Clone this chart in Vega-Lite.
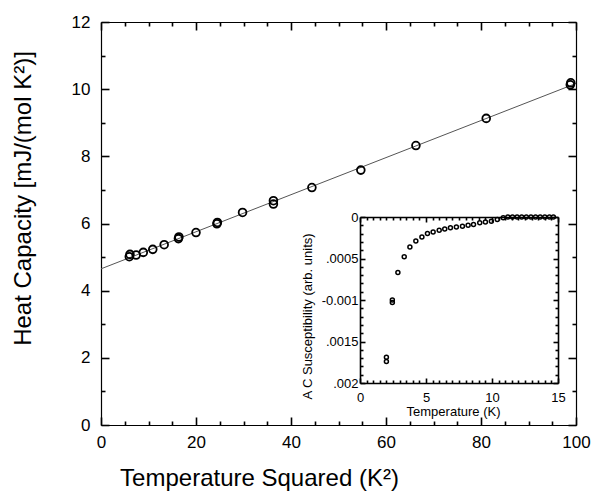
{
  "$schema": "https://vega.github.io/schema/vega-lite/v6.json",
  "autosize": "none",
  "width": 475,
  "height": 403,
  "padding": {"left": 101, "top": 22, "right": 18, "bottom": 67},
  "background": "white",
  "config": {
    "view": {"stroke": null},
    "axis": {
      "grid": false,
      "ticks": true,
      "domainColor": "black",
      "tickColor": "black",
      "tickOpacity": 1,
      "tickWidth": 1.6,
      "labelColor": "black",
      "titleColor": "black",
      "labelFont": "Liberation Sans",
      "titleFont": "Liberation Sans",
      "titleFontWeight": "normal",
      "labelFlush": false
    }
  },
  "datasets": {
    "main": [
      {"t2": 5.96, "c": 5.01}, {"t2": 6.1, "c": 5.08}, {"t2": 7.4, "c": 5.06}, {"t2": 8.9, "c": 5.14},
      {"t2": 10.9, "c": 5.23}, {"t2": 13.3, "c": 5.37}, {"t2": 16.3, "c": 5.55}, {"t2": 16.4, "c": 5.6},
      {"t2": 20.0, "c": 5.73}, {"t2": 24.4, "c": 5.99}, {"t2": 24.5, "c": 6.03}, {"t2": 29.8, "c": 6.33},
      {"t2": 36.3, "c": 6.58}, {"t2": 36.3, "c": 6.68}, {"t2": 44.4, "c": 7.07}, {"t2": 54.7, "c": 7.59},
      {"t2": 66.3, "c": 8.32}, {"t2": 81.1, "c": 9.13}, {"t2": 98.8, "c": 10.13}, {"t2": 98.9, "c": 10.19}
    ],
    "fit": [{"t2": 0, "c": 4.65}, {"t2": 100, "c": 10.17}],
    "inset": [
      {"T": 2.0, "chi": -0.00169}, {"T": 2.0, "chi": -0.00174}, {"T": 2.45, "chi": -0.00100}, {"T": 2.45, "chi": -0.00103},
      {"T": 2.87, "chi": -0.00067}, {"T": 3.35, "chi": -0.00048}, {"T": 3.78, "chi": -0.00036}, {"T": 4.23, "chi": -0.00029},
      {"T": 4.69, "chi": -0.00024}, {"T": 5.11, "chi": -0.00020}, {"T": 5.54, "chi": -0.00018}, {"T": 6.0, "chi": -0.00016},
      {"T": 6.42, "chi": -0.000145}, {"T": 6.85, "chi": -0.00013}, {"T": 7.3, "chi": -0.00012}, {"T": 7.76, "chi": -0.00011},
      {"T": 8.19, "chi": -0.0001}, {"T": 8.6, "chi": -0.00009}, {"T": 9.07, "chi": -0.00007}, {"T": 9.5, "chi": -0.00006},
      {"T": 9.95, "chi": -0.00005}, {"T": 10.4, "chi": -0.00003}, {"T": 10.85, "chi": -0.00001}, {"T": 11.2, "chi": 0},
      {"T": 11.55, "chi": 0}, {"T": 11.9, "chi": 0}, {"T": 12.25, "chi": 0}, {"T": 12.6, "chi": 0},
      {"T": 12.95, "chi": 0}, {"T": 13.3, "chi": 0}, {"T": 13.65, "chi": 0}, {"T": 14.0, "chi": 0},
      {"T": 14.35, "chi": 0}, {"T": 14.65, "chi": 0}
    ]
  },
  "resolve": {
    "scale": {"x": "independent", "y": "independent"},
    "axis": {"x": "independent", "y": "independent"}
  },
  "layer": [
    {
      "data": {"name": "fit"},
      "mark": {"type": "line", "color": "#555555", "strokeWidth": 1},
      "encoding": {
        "x": {"field": "t2", "type": "quantitative", "scale": {"domain": [0, 100], "nice": false, "zero": false},
          "axis": {"orient": "bottom", "offset": -403, "values": [0, 20, 40, 60, 80, 100], "tickSize": 8, "labels": false, "title": null, "domainWidth": 1.2}},
        "y": {"field": "c", "type": "quantitative", "scale": {"domain": [0, 12], "nice": false, "zero": false},
          "axis": {"orient": "left", "offset": -475, "values": [0, 2, 4, 6, 8, 10, 12], "tickSize": 8, "labels": false, "title": null, "domainWidth": 1.2}}
      }
    },
    {
      "data": {"name": "main"},
      "mark": {"type": "point", "shape": "circle", "filled": false, "color": "black", "size": 60, "strokeWidth": 1.8, "opacity": 1},
      "encoding": {
        "x": {"field": "t2", "type": "quantitative", "scale": {"domain": [0, 100], "nice": false, "zero": false},
          "axis": {"orient": "bottom", "values": [0, 20, 40, 60, 80, 100], "ticks": false, "labelPadding": 9, "labelFontSize": 17, "domainWidth": 1.2,
            "title": "Temperature Squared (K²)", "titleFontSize": 24, "titlePadding": 16, "titleX": 158}},
        "y": {"field": "c", "type": "quantitative", "scale": {"domain": [0, 12], "nice": false, "zero": false},
          "axis": {"orient": "left", "values": [0, 2, 4, 6, 8, 10, 12], "ticks": false, "labelPadding": 11, "labelFontSize": 17, "domainWidth": 1.2,
            "title": "Heat Capacity [mJ/(mol K²)]", "titleFontSize": 24, "titlePadding": 36, "titleY": 176}}
      }
    },
    {
      "data": {"name": "fit"},
      "mark": {"type": "point", "opacity": 0},
      "encoding": {
        "x": {"field": "t2", "type": "quantitative", "scale": {"domain": [0, 100], "nice": false, "zero": false},
          "axis": {"orient": "top", "offset": -403, "values": [0, 20, 40, 60, 80, 100], "tickSize": 8, "labels": false, "domain": false, "title": null}},
        "y": {"field": "c", "type": "quantitative", "scale": {"domain": [0, 12], "nice": false, "zero": false},
          "axis": {"orient": "right", "offset": -475, "values": [0, 2, 4, 6, 8, 10, 12], "tickSize": 8, "labels": false, "domain": false, "title": null}}
      }
    },
    {
      "data": {"name": "fit"},
      "mark": {"type": "point", "opacity": 0},
      "encoding": {
        "x": {"field": "t2", "type": "quantitative", "scale": {"domain": [0, 100], "nice": false, "zero": false},
          "axis": {"orient": "top", "offset": -403, "values": [5, 10, 15, 25, 30, 35, 45, 50, 55, 65, 70, 75, 85, 90, 95], "tickSize": 4, "labels": false, "domain": false, "title": null}},
        "y": {"field": "c", "type": "quantitative", "scale": {"domain": [0, 12], "nice": false, "zero": false},
          "axis": {"orient": "right", "offset": -475, "values": [1, 3, 5, 7, 9, 11], "tickSize": 4, "labels": false, "domain": false, "title": null}}
      }
    },
    {
      "data": {"name": "fit"},
      "mark": {"type": "point", "opacity": 0},
      "encoding": {
        "x": {"field": "t2", "type": "quantitative", "scale": {"domain": [0, 100], "nice": false, "zero": false},
          "axis": {"orient": "bottom", "offset": -403, "values": [5, 10, 15, 25, 30, 35, 45, 50, 55, 65, 70, 75, 85, 90, 95], "tickSize": 4, "labels": false, "domain": false, "title": null}},
        "y": {"field": "c", "type": "quantitative", "scale": {"domain": [0, 12], "nice": false, "zero": false},
          "axis": {"orient": "left", "offset": -475, "values": [1, 3, 5, 7, 9, 11], "tickSize": 4, "labels": false, "domain": false, "title": null}}
      }
    },
    {
      "data": {"name": "inset"},
      "mark": {"type": "point", "shape": "circle", "filled": false, "color": "black", "size": 16, "strokeWidth": 1.5, "opacity": 1},
      "encoding": {
        "x": {"field": "T", "type": "quantitative", "scale": {"domain": [0, 15], "range": [259, 457], "nice": false, "zero": false},
          "axis": {"orient": "bottom", "offset": -42, "values": [0, 5, 10, 15], "ticks": false, "labelPadding": 8, "labelFontSize": 13,
            "domainWidth": 1.6, "title": "Temperature (K)", "titleFontSize": 13, "titlePadding": 1, "titleX": 352}},
        "y": {"field": "chi", "type": "quantitative", "scale": {"domain": [-0.002, 0], "range": [361, 195], "nice": false, "zero": false},
          "axis": {"orient": "left", "offset": -259, "values": [0, -0.0005, -0.001, -0.0015, -0.002], "ticks": false, "labelPadding": 2, "labelFontSize": 13,
            "labelExpr": "datum.value > -0.00025 ? '0' : datum.value > -0.00075 ? '.0005' : datum.value > -0.00125 ? '-0.001' : datum.value > -0.00175 ? '.0015' : '.002'",
            "domainWidth": 1.6, "title": "A C Susceptibility (arb. units)", "titleFontSize": 13, "titlePadding": 7, "titleY": 294}}
      }
    },
    {
      "data": {"name": "inset"},
      "mark": {"type": "point", "opacity": 0},
      "encoding": {
        "x": {"field": "T", "type": "quantitative", "scale": {"domain": [0, 15], "range": [259, 457], "nice": false, "zero": false},
          "axis": {"orient": "bottom", "offset": -208, "values": [0, 5, 10, 15], "tickSize": 5, "labels": false, "domainWidth": 1.6, "title": null}},
        "y": {"field": "chi", "type": "quantitative", "scale": {"domain": [-0.002, 0], "range": [361, 195], "nice": false, "zero": false},
          "axis": {"orient": "left", "offset": -457, "values": [0, -0.0005, -0.001, -0.0015, -0.002], "tickSize": 5, "labels": false, "domainWidth": 1.6, "title": null}}
      }
    },
    {
      "data": {"name": "inset"},
      "mark": {"type": "point", "opacity": 0},
      "encoding": {
        "x": {"field": "T", "type": "quantitative", "scale": {"domain": [0, 15], "range": [259, 457], "nice": false, "zero": false},
          "axis": {"orient": "top", "offset": -361, "values": [0, 5, 10, 15], "tickSize": 5, "labels": false, "domain": false, "title": null}},
        "y": {"field": "chi", "type": "quantitative", "scale": {"domain": [-0.002, 0], "range": [361, 195], "nice": false, "zero": false},
          "axis": {"orient": "right", "offset": -216, "values": [0, -0.0005, -0.001, -0.0015, -0.002], "tickSize": 5, "labels": false, "domain": false, "title": null}}
      }
    },
    {
      "data": {"name": "inset"},
      "mark": {"type": "point", "opacity": 0},
      "encoding": {
        "x": {"field": "T", "type": "quantitative", "scale": {"domain": [0, 15], "range": [259, 457], "nice": false, "zero": false},
          "axis": {"orient": "top", "offset": -361, "values": [0.5, 1, 1.5, 2, 2.5, 3, 3.5, 4, 4.5, 5.5, 6, 6.5, 7, 7.5, 8, 8.5, 9, 9.5, 10.5, 11, 11.5, 12, 12.5, 13, 13.5, 14, 14.5], "tickSize": 3, "labels": false, "domain": false, "title": null}},
        "y": {"field": "chi", "type": "quantitative", "scale": {"domain": [-0.002, 0], "range": [361, 195], "nice": false, "zero": false},
          "axis": {"orient": "right", "offset": -216, "values": [-0.0001, -0.0002, -0.0003, -0.0004, -0.0006, -0.0007, -0.0008, -0.0009, -0.0011, -0.0012, -0.0013, -0.0014, -0.0016, -0.0017, -0.0018, -0.0019], "tickSize": 3, "labels": false, "domain": false, "title": null}}
      }
    },
    {
      "data": {"name": "inset"},
      "mark": {"type": "point", "opacity": 0},
      "encoding": {
        "x": {"field": "T", "type": "quantitative", "scale": {"domain": [0, 15], "range": [259, 457], "nice": false, "zero": false},
          "axis": {"orient": "bottom", "offset": -208, "values": [0.5, 1, 1.5, 2, 2.5, 3, 3.5, 4, 4.5, 5.5, 6, 6.5, 7, 7.5, 8, 8.5, 9, 9.5, 10.5, 11, 11.5, 12, 12.5, 13, 13.5, 14, 14.5], "tickSize": 3, "labels": false, "domain": false, "title": null}},
        "y": {"field": "chi", "type": "quantitative", "scale": {"domain": [-0.002, 0], "range": [361, 195], "nice": false, "zero": false},
          "axis": {"orient": "left", "offset": -457, "values": [-0.0001, -0.0002, -0.0003, -0.0004, -0.0006, -0.0007, -0.0008, -0.0009, -0.0011, -0.0012, -0.0013, -0.0014, -0.0016, -0.0017, -0.0018, -0.0019], "tickSize": 3, "labels": false, "domain": false, "title": null}}
      }
    }
  ]
}
